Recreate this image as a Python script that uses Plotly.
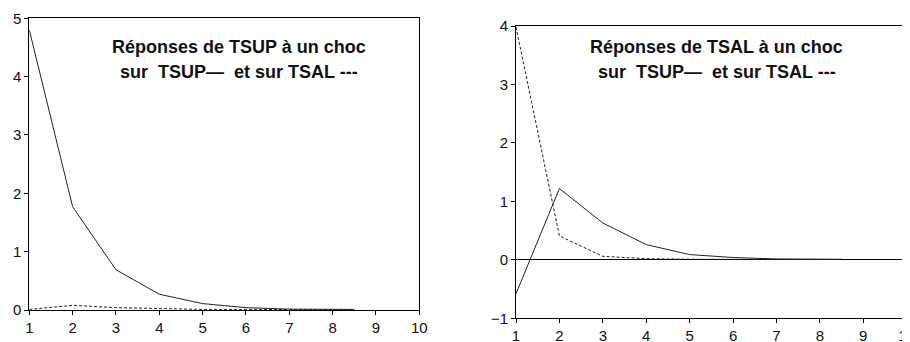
import plotly.graph_objects as go

# The page body has an 8px default margin, so the figure is sized to fit the
# remaining window area and all positions below are offset by that margin.
OFF = 8
W, H = 910 - OFF, 342 - OFF

periods = [1, 2, 3, 4, 5, 6, 7, 8, 8.5]

# Panel 1: responses of TSUP
tsup_to_tsup = [4.80, 1.77, 0.69, 0.27, 0.11, 0.04, 0.015, 0.01, 0.01]
tsup_to_tsal = [0.01, 0.08, 0.04, 0.02, 0.01, 0.01, 0.005, 0.005, 0.005]

# Panel 2: responses of TSAL
tsal_to_tsup = [-0.58, 1.22, 0.63, 0.26, 0.09, 0.04, 0.015, 0.01, 0.01]
tsal_to_tsal = [3.98, 0.41, 0.06, 0.02, 0.01, 0.005, 0.005, 0.005, 0.005]

x_ticks = [1, 2, 3, 4, 5, 6, 7, 8, 9, 10]
y_ticks_left = [0, 1, 2, 3, 4, 5]
y_ticks_right = [-1, 0, 1, 2, 3, 4]

title_left = ["Réponses de TSUP à un choc", "sur\u00a0\u00a0TSUP—\u00a0\u00a0et sur TSAL ---"]
title_right = ["Réponses de TSAL à un choc", "sur\u00a0\u00a0TSUP—\u00a0\u00a0et sur TSAL ---"]

LINE = "#222222"
FONT = "Liberation Sans, Arial, sans-serif"


def px_x(p):
    return (p - OFF) / W


def px_y(p):
    return 1 - (p - OFF) / H


fig = go.Figure()

fig.add_trace(go.Scatter(x=periods, y=tsup_to_tsup, mode="lines",
                         line=dict(color=LINE, width=1), xaxis="x", yaxis="y",
                         showlegend=False, hoverinfo="skip"))
fig.add_trace(go.Scatter(x=periods, y=tsup_to_tsal, mode="lines",
                         line=dict(color=LINE, width=1, dash="3px,2px"), xaxis="x", yaxis="y",
                         showlegend=False, hoverinfo="skip"))
fig.add_trace(go.Scatter(x=periods, y=tsal_to_tsup, mode="lines",
                         line=dict(color=LINE, width=1), xaxis="x2", yaxis="y2",
                         showlegend=False, hoverinfo="skip"))
fig.add_trace(go.Scatter(x=periods, y=tsal_to_tsal, mode="lines",
                         line=dict(color=LINE, width=1, dash="3px,2px"), xaxis="x2", yaxis="y2",
                         showlegend=False, hoverinfo="skip"))

axis_common = dict(showgrid=False, showline=True, linecolor="black", linewidth=1,
                   mirror=True, ticks="outside", ticklen=4, tickcolor="black",
                   automargin=False,
                   tickfont=dict(family=FONT, size=15, color="#111111"))

fig.update_layout(
    width=W, height=H,
    margin=dict(l=0, r=0, t=0, b=0, pad=0),
    paper_bgcolor="white", plot_bgcolor="white",
    xaxis=dict(domain=[px_x(29.3), px_x(419.3)], range=[1, 10], tickvals=x_ticks,
               anchor="y", zeroline=False, **axis_common),
    yaxis=dict(domain=[px_y(310), px_y(18.3)], range=[0, 5], tickvals=y_ticks_left,
               anchor="x", zeroline=False, **axis_common),
    xaxis2=dict(domain=[px_x(516), px_x(906.7)], range=[1, 10], tickvals=x_ticks,
                anchor="y2", zeroline=False, ticklabeloverflow="allow", **axis_common),
    yaxis2=dict(domain=[px_y(318.3), px_y(26)], range=[-1, 4], tickvals=y_ticks_right,
                anchor="x2", zeroline=True, zerolinecolor="black", zerolinewidth=1,
                **axis_common),
)

for cx, lines in ((239, title_left), (716.7, title_right)):
    for cy, txt in zip((47, 72), lines):
        fig.add_annotation(x=px_x(cx), y=px_y(cy), xref="paper", yref="paper",
                           text="<b>" + txt + "</b>", showarrow=False,
                           xanchor="center", yanchor="middle",
                           font=dict(family=FONT, size=18, color="#111111"))

fig.write_html("out.html")
